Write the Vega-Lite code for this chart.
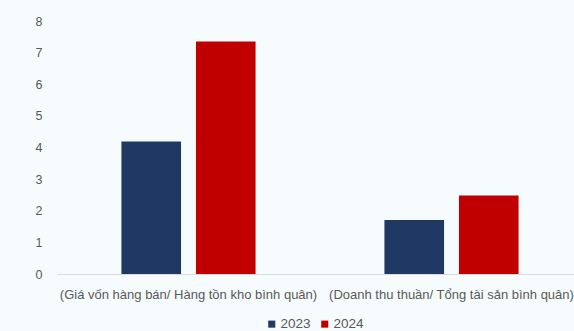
{
  "$schema": "https://vega.github.io/schema/vega-lite/v6.json",
  "autosize": {"type": "none"},
  "width": 526,
  "height": 253,
  "padding": {"left": 57, "top": 21, "right": 0, "bottom": 57},
  "background": "#f6fbfd",
  "config": {
    "view": {"stroke": null},
    "font": "Liberation Sans"
  },
  "data": {
    "values": [
      {"chiso": "(Giá vốn hàng bán/ Hàng tồn kho bình quân)", "nam": "2023", "giatri": 4.19},
      {"chiso": "(Giá vốn hàng bán/ Hàng tồn kho bình quân)", "nam": "2024", "giatri": 7.35},
      {"chiso": "(Doanh thu thuần/ Tổng tài sản bình quân)", "nam": "2023", "giatri": 1.71},
      {"chiso": "(Doanh thu thuần/ Tổng tài sản bình quân)", "nam": "2024", "giatri": 2.48}
    ]
  },
  "mark": {"type": "bar"},
  "encoding": {
    "x": {
      "field": "chiso",
      "type": "nominal",
      "sort": null,
      "title": null,
      "scale": {"paddingInner": 0.49, "paddingOuter": 0.245},
      "axis": {
        "labelAngle": 0,
        "labelLimit": 400,
        "labelOverlap": false,
        "ticks": false,
        "domainColor": "#d9d9d9",
        "domainWidth": 1,
        "labelPadding": 14,
        "labelFontSize": 13,
        "labelColor": "#595959"
      }
    },
    "xOffset": {
      "field": "nam",
      "type": "nominal",
      "scale": {"paddingInner": 0.2, "paddingOuter": 0}
    },
    "y": {
      "field": "giatri",
      "type": "quantitative",
      "title": null,
      "scale": {"domain": [0, 8], "nice": false},
      "axis": {
        "values": [0, 1, 2, 3, 4, 5, 6, 7, 8],
        "domain": false,
        "ticks": false,
        "grid": false,
        "labelPadding": 15,
        "labelFontSize": 12.5,
        "labelColor": "#595959"
      }
    },
    "color": {
      "field": "nam",
      "type": "nominal",
      "title": null,
      "scale": {"domain": ["2023", "2024"], "range": ["#1f3864", "#c00000"]},
      "legend": {
        "orient": "none",
        "legendX": 208,
        "legendY": 296,
        "direction": "horizontal",
        "symbolType": "square",
        "symbolSize": 50,
        "symbolStrokeWidth": 0,
        "labelFontSize": 13.5,
        "labelColor": "#595959",
        "labelOffset": 2,
        "columnPadding": 7
      }
    }
  }
}
